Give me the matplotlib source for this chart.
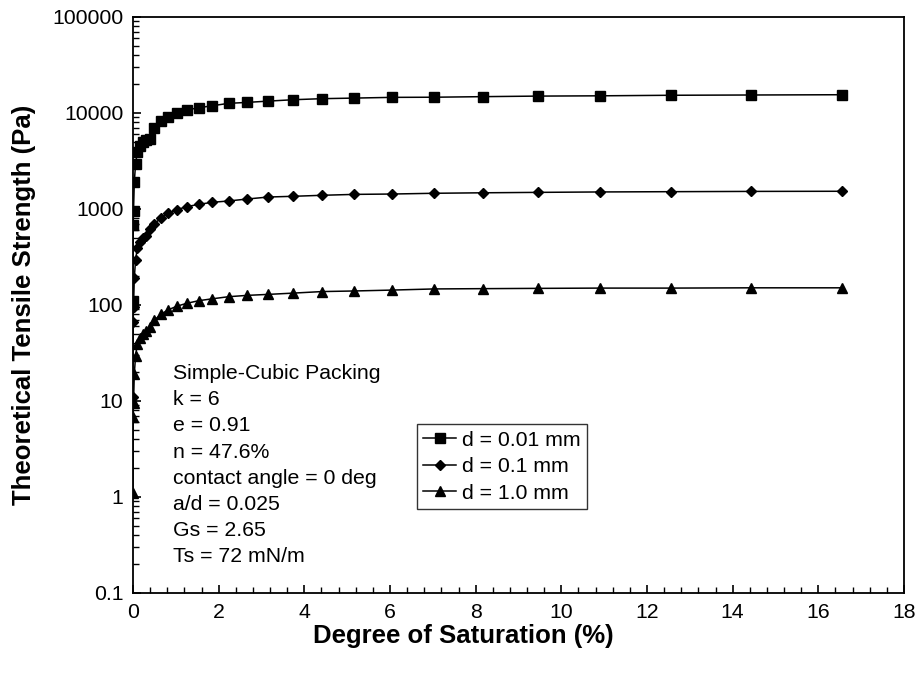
import matplotlib
matplotlib.use("Agg")
import matplotlib.pyplot as plt
from matplotlib.ticker import MultipleLocator, LogLocator, FixedLocator, FuncFormatter, NullFormatter

plt.rcParams['font.family'] = ['Liberation Sans', 'DejaVu Sans']

saturation = [0.0, 0.004, 0.012, 0.03, 0.06, 0.10, 0.16, 0.24, 0.31, 0.40, 0.49, 0.65,
              0.82, 1.02, 1.25, 1.54, 1.85, 2.23, 2.67, 3.16, 3.74, 4.41, 5.17,
              6.04, 7.03, 8.16, 9.45, 10.90, 12.55, 14.42, 16.55]

strength_d001 = [110, 680, 950, 1900, 2950, 3900, 4500, 4950, 5200, 5360, 6980, 8200,
                 9150, 10000, 10750, 11350, 11900, 12600, 12900, 13300, 13750, 14100, 14300,
                 14550, 14600, 14800, 15000, 15100, 15300, 15400, 15500]
strength_d01 = [11, 67, 95, 190, 295, 390, 450, 495, 520, 619, 698, 800,
                908, 983, 1057, 1119, 1174, 1212, 1271, 1333, 1356, 1389, 1420,
                1432, 1458, 1475, 1490, 1505, 1515, 1525, 1530]
strength_d10 = [1.1, 6.8, 9.5, 19, 29.5, 39, 45, 50, 53, 59, 69, 80,
                89, 97, 104, 111, 116, 122, 126, 129, 133, 138, 140,
                143, 147, 148, 149, 150, 150, 151, 151]

labels = ['d = 0.01 mm', 'd = 0.1 mm', 'd = 1.0 mm']
y_ticks = [0.1, 1, 10, 100, 1000, 10000, 100000]
y_tick_labels = ['0.1', '1', '10', '100', '1000', '10000', '100000']

FS = 15.3
FS_TITLE = 18.5

fig = plt.figure(figsize=(9.17, 6.79), dpi=100)
ax = fig.add_axes([133 / 917, 1 - 593 / 679, (904 - 133) / 917, (593 - 17) / 679])

ax.plot(saturation, strength_d001, color='black', lw=1.1, marker='s', ms=7, label=labels[0])
ax.plot(saturation, strength_d01, color='black', lw=1.1, marker='D', ms=5.5, label=labels[1])
ax.plot(saturation, strength_d10, color='black', lw=1.1, marker='^', ms=7.5, label=labels[2])

ax.set_yscale('log')
ax.set_ylim(0.1, 100000)
ax.set_xlim(0, 18)
ax.xaxis.set_major_locator(MultipleLocator(2))
ax.xaxis.set_minor_locator(MultipleLocator(0.4))
ax.yaxis.set_major_locator(FixedLocator(y_ticks))
ax.yaxis.set_major_formatter(FuncFormatter(lambda v, p: y_tick_labels[y_ticks.index(v)] if v in y_ticks else ''))
ax.yaxis.set_minor_locator(LogLocator(base=10, subs=range(2, 10)))
ax.yaxis.set_minor_formatter(NullFormatter())

ax.tick_params(which='both', direction='in', top=False, right=False, labelsize=FS, color='black')
ax.tick_params(which='major', length=6, width=1.2, pad=7)
ax.tick_params(which='minor', length=4, width=1.0)
for s in ax.spines.values():
    s.set_linewidth(1.3)

ax.set_xlabel('Degree of Saturation (%)', fontsize=FS_TITLE, fontweight='bold')
ax.set_ylabel('Theoretical Tensile Strength (Pa)', fontsize=FS_TITLE, fontweight='bold')
ax.xaxis.set_label_coords((463 - 133) / 771, (593 - 624) / 576)
ax.yaxis.set_label_coords((36 - 133) / 771, 0.5)

ax.text(40 / 771, 1 - (364 - 17) / 576,
        'Simple-Cubic Packing\nk = 6\ne = 0.91\nn = 47.6%\ncontact angle = 0 deg\na/d = 0.025\nGs = 2.65\nTs = 72 mN/m',
        transform=ax.transAxes, ha='left', va='top', fontsize=FS, linespacing=1.48)

leg = ax.legend(loc='lower left', bbox_to_anchor=((417 - 133) / 771, (593 - 509) / 576), borderaxespad=0,
                fontsize=FS, frameon=True, fancybox=False, edgecolor='black',
                handlelength=1.55, handletextpad=0.25, borderpad=0.3, labelspacing=0.35)
leg.get_frame().set_linewidth(1.0)

fig.savefig('out.png', dpi=100)
